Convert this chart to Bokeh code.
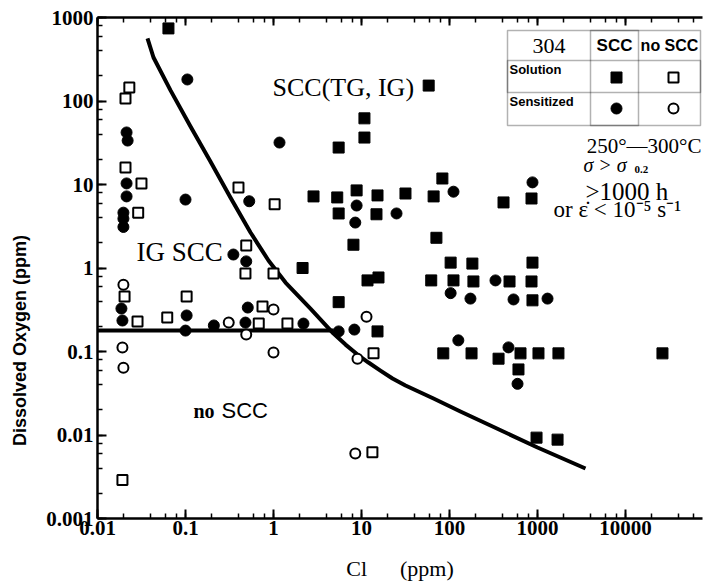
import numpy as np
from bokeh.plotting import figure
from bokeh.models import LogAxis, LogTicker, Label, BoxAnnotation, CustomJSTickFormatter
from bokeh.embed import file_html
from bokeh.resources import INLINE

# ---------------- data ----------------
# Solution annealed, SCC  (filled squares)
sol_scc_cl = [0.064, 58, 10.8, 10.8, 5.5, 2.85, 5.3, 8.8, 5.5, 15.2, 14.8, 31.6, 66, 83,
              8.1, 71, 103, 182, 877, 855, 411, 2.14, 62, 111, 187, 481, 855, 877,
              85, 178, 361, 641, 1026, 1730, 608, 26300, 975, 1690, 5.5, 15.2, 11.7, 15.6]
sol_scc_o2 = [740, 153, 62, 36.5, 27.7, 7.2, 7.0, 8.5, 4.5, 7.4, 4.4, 7.8, 7.2, 11.8,
              1.9, 2.3, 1.16, 1.13, 1.16, 6.8, 6.1, 1.0, 0.71, 0.71, 0.69, 0.69, 0.69, 0.41,
              0.095, 0.095, 0.082, 0.095, 0.095, 0.095, 0.061, 0.095, 0.0093, 0.0088, 0.39, 0.174, 0.71, 0.77]

# Sensitized, SCC  (filled circles)
sen_scc_cl = [0.105, 0.0214, 0.022, 0.0214, 0.0214, 0.0197, 0.0197, 0.0197, 0.1, 0.53, 1.17,
              8.8, 8.5, 25, 111, 877, 0.35, 0.49, 0.0187, 0.0192, 0.103, 0.1, 0.21, 0.51, 0.48,
              2.19, 5.5, 8.3, 126, 468, 593, 333, 103, 173, 534, 1300]
sen_scc_o2 = [181, 42, 33.6, 10.3, 7.2, 4.6, 3.9, 3.1, 6.6, 6.3, 31.8,
              5.6, 3.5, 4.5, 8.2, 10.6, 1.45, 1.2, 0.327, 0.235, 0.27, 0.178, 0.205, 0.336, 0.222,
              0.216, 0.174, 0.183, 0.136, 0.112, 0.041, 0.71, 0.50, 0.43, 0.42, 0.43]

# Solution annealed, no SCC  (open squares)
sol_no_cl = [0.023, 0.0208, 0.0208, 0.0316, 0.029, 0.40, 1.03, 0.49, 0.48, 1.0, 0.0203, 0.0285,
             0.062, 0.103, 0.75, 0.68, 1.44, 13.7, 13.3, 0.0192]
sol_no_o2 = [145, 107, 16, 10.3, 4.6, 9.2, 5.8, 1.86, 0.86, 0.86, 0.456, 0.229,
             0.255, 0.456, 0.346, 0.216, 0.216, 0.095, 0.0062, 0.0029]

# Sensitized, no SCC  (open circles)
sen_no_cl = [0.0197, 0.31, 1.0, 0.49, 0.0192, 0.0197, 1.0, 11.4, 9.0, 8.5]
sen_no_o2 = [0.63, 0.222, 0.319, 0.16, 0.112, 0.064, 0.097, 0.26, 0.082, 0.006]

# SCC / no SCC boundary curve
boundary_cl = [0.037, 0.0433, 0.0676, 0.114, 0.192, 0.324, 0.548, 0.877, 1.37, 2.63, 4.81,
               6.58, 9.0, 12.0, 16.4, 22.5, 31.6, 65.8, 133, 292, 1000, 3510]
boundary_o2 = [561, 332, 134, 49.5, 18.9, 6.99, 2.66, 1.23, 0.670, 0.327, 0.164,
               0.121, 0.092, 0.0738, 0.0591, 0.0475, 0.0392, 0.0274, 0.0191, 0.0130, 0.00708, 0.00397]

# low-chloride oxygen threshold
threshold_cl = [0.01, 4.8]
threshold_o2 = [0.178, 0.178]

# ---------------- layout helpers ----------------
W, H = 704, 586
X0, X1 = 0.01, 10 ** 4.875
Y0, Y1 = 0.001, 1000.0
FL, FT, FR, FB = 97, 17, 702, 518   # frame edges on the page (px)
FW, FH = FR - FL, FB - FT


def dx(px):
    lo, hi = np.log10(X0), np.log10(X1)
    return 10 ** (lo + (px - FL) / FW * (hi - lo))


def dy(py):
    lo, hi = np.log10(Y0), np.log10(Y1)
    return 10 ** (hi - (py - FT) / FH * (hi - lo))


SERIF = "Liberation Serif"
SANS = "Liberation Sans"

p = figure(width=W, height=H, x_axis_type="log", y_axis_type="log",
           x_range=(X0, X1), y_range=(Y0, Y1),
           output_backend="svg", toolbar_location=None,
           min_border_left=FL, min_border_right=W - FR, min_border_top=FT, min_border_bottom=H - FB,
           background_fill_color="white", border_fill_color="white")
p.outline_line_color = None
p.xgrid.visible = False
p.ygrid.visible = False

fmt = CustomJSTickFormatter(code="return Number(tick.toPrecision(3)).toString();")

for ax in (p.xaxis[0], p.yaxis[0]):
    ax.axis_line_width = 2.5
    ax.axis_line_color = "black"
    ax.major_tick_in = 9
    ax.major_tick_out = 0
    ax.minor_tick_in = 5
    ax.minor_tick_out = 0
    ax.major_tick_line_width = 2
    ax.minor_tick_line_width = 1.5
    ax.major_tick_line_color = "black"
    ax.minor_tick_line_color = "black"
    ax.major_label_text_font = SERIF
    ax.major_label_text_font_style = "bold"
    ax.major_label_text_font_size = "21px"
    ax.major_label_text_color = "black"
    ax.formatter = fmt

p.xaxis[0].ticker = LogTicker(desired_num_ticks=8)
p.yaxis[0].ticker = LogTicker(desired_num_ticks=7)
p.xaxis.major_label_standoff = 2
p.yaxis.major_label_standoff = 4

p.xaxis.axis_label = "Cl\u2003\u2002(ppm)"
p.xaxis.axis_label_text_font = SERIF
p.xaxis.axis_label_text_font_style = "normal"
p.xaxis.axis_label_text_font_size = "22px"
p.xaxis.axis_label_standoff = 18
p.xaxis.axis_label_text_color = "black"

p.yaxis.axis_label = "Dissolved Oxygen  (ppm)" + "\u00a0" * 28
p.yaxis.axis_label_text_font = SANS
p.yaxis.axis_label_text_font_style = "bold"
p.yaxis.axis_label_text_font_size = "18px"
p.yaxis.axis_label_standoff = 13
p.yaxis.axis_label_text_color = "black"

top = LogAxis(ticker=LogTicker(desired_num_ticks=8))
top.axis_line_width = 2.5
top.major_tick_in = 8
top.major_tick_out = 0
top.minor_tick_in = 5
top.minor_tick_out = 0
top.major_tick_line_width = 2
top.minor_tick_line_width = 1.5
top.major_label_text_font_size = "0px"
top.major_label_standoff = 0
top.major_label_text_color = None
p.add_layout(top, "above")

# ---------------- lines ----------------
p.line(boundary_cl, boundary_o2, line_width=4, color="black", line_join="round")
p.line(threshold_cl, threshold_o2, line_width=4, color="black")

# ---------------- markers ----------------
p.scatter(sol_scc_cl, sol_scc_o2, marker="square", size=11, fill_color="black", line_color="black")
p.scatter(sen_scc_cl, sen_scc_o2, marker="circle", size=11, fill_color="black", line_color="black")
p.scatter(sol_no_cl, sol_no_o2, marker="square", size=10, fill_color="white", line_color="black", line_width=2)
p.scatter(sen_no_cl, sen_no_o2, marker="circle", size=10, fill_color="white", line_color="black", line_width=2)


# ---------------- region labels ----------------
def lab(px, py, text, font=SERIF, size="24px", style="normal", align="left", baseline="middle"):
    p.add_layout(Label(x=dx(px), y=dy(py), text=text, text_font=font, text_font_size=size,
                       text_font_style=style, text_align=align, text_baseline=baseline,
                       text_color="black"))


lab(272, 87, "SCC(TG, IG)", size="26px")
lab(136, 251, "IG SCC", size="27px")
lab(193, 410, "no", size="20px", style="bold")
lab(221, 410, "SCC", font=SANS, size="22px")

# ---------------- legend table ----------------
L, R, T, B = 507, 700, 30, 125
c1, c2 = 590, 638
r1, r2 = 60, 92
for (l, r, t, b) in [(L, R, T, B), (c1, c2, T, B), (L, R, r1, r2)]:
    p.add_layout(BoxAnnotation(left=dx(l), right=dx(r), top=dy(t), bottom=dy(b),
                               fill_color=None, line_color="black", line_width=1.5))

lab((L + c1) / 2, 45, "304", size="22px", align="center")
lab((c1 + c2) / 2, 45, "SCC", font=SANS, size="17px", style="bold", align="center")
lab((c2 + R) / 2, 45, "no SCC", font=SANS, size="16px", style="bold", align="center")
lab(509, 69, "Solution", font=SANS, size="13px", style="bold")
lab(509, 101, "Sensitized", font=SANS, size="13px", style="bold")

kx = [dx(616), dx(673)]
ky1, ky2 = dy(77), dy(108)
p.scatter([kx[0]], [ky1], marker="square", size=11, fill_color="black", line_color="black")
p.scatter([kx[1]], [ky1], marker="square", size=10, fill_color="white", line_color="black", line_width=2)
p.scatter([kx[0]], [ky2], marker="circle", size=11, fill_color="black", line_color="black")
p.scatter([kx[1]], [ky2], marker="circle", size=10, fill_color="white", line_color="black", line_width=2)

# ---------------- test conditions ----------------
lab(701, 145, "250°\u2014300°C", size="21px", align="right")
lab(583, 164, "σ > σ", size="20px", style="italic")
lab(634, 169, "0.2", size="11px", style="bold")
lab(585, 191, ">1000 h", size="25px")
lab(553, 209, "or ε\u0307 < 10\u207b\u2075 s\u207b\u00b9", size="23px")

open("out.html", "w").write(file_html(p, INLINE))
